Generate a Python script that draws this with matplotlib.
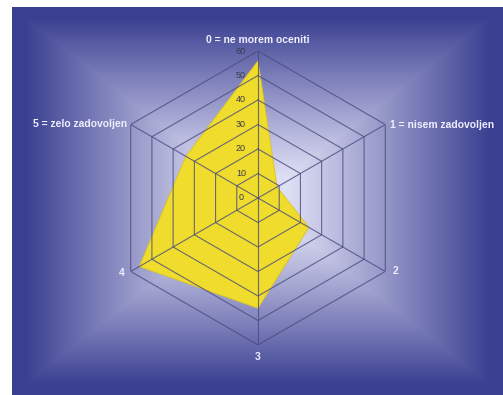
import numpy as np
import matplotlib
matplotlib.use("Agg")
import matplotlib.pyplot as plt
from matplotlib.transforms import ScaledTranslation

# ---- data ----
categories = ["0 = ne morem oceniti", "1 = nisem zadovoljen", "2", "3", "4",
              "5 = zelo zadovoljen"]
values = [56, 9, 24, 45, 56, 34]
rticks = [0, 10, 20, 30, 40, 50, 60]
rmax = 60

W, H = 503, 395
DPI = 100
fig = plt.figure(figsize=(W / DPI, H / DPI), dpi=DPI, facecolor="white")

# ---- background: rectangular gradient panel ----
bg = fig.add_axes([12 / W, 0, (W - 12) / W, (H - 7) / H], zorder=0)
nx, ny = 491, 388
xx = np.linspace(-1, 1, nx)[None, :]
yy = np.linspace(-1, 1, ny)[:, None]
u = np.maximum(np.abs(xx) * np.ones_like(yy), np.abs(yy) * np.ones_like(xx))
t = np.clip((u - 0.12) / 0.83, 0, 1) ** 1.1
light = np.array([222, 222, 244]) / 255
dark = np.array([58, 63, 145]) / 255
img = light[None, None, :] * (1 - t[..., None]) + dark[None, None, :] * t[..., None]
bg.imshow(img, aspect="auto", interpolation="bilinear")
bg.set_axis_off()

# ---- radar axes ----
cx, cy, R = 258, H - 198, 147
ax = fig.add_axes([(cx - R) / W, (cy - R) / H, 2 * R / W, 2 * R / H],
                  projection="polar", zorder=1)
ax.patch.set_alpha(0)
ax.set_theta_offset(np.pi / 2)
ax.set_theta_direction(-1)
ax.set_ylim(0, rmax)
ax.grid(False)
ax.spines["polar"].set_visible(False)
ax.set_xticks([])
ax.set_yticks([])

n = len(categories)
angles = np.arange(n) * 2 * np.pi / n
closed_angles = np.append(angles, angles[0])

# data polygon
vals = np.append(values, values[0])
ax.fill(closed_angles, vals, color="#efdc2c", zorder=2, edgecolor="#d8c424",
        linewidth=0.6)

# hexagonal grid rings and spokes
grid_color = "#4a4a7e"
for r in rticks[1:]:
    ax.plot(closed_angles, [r] * (n + 1), color=grid_color, lw=0.8, alpha=0.8,
            zorder=3)
for a in angles:
    ax.plot([a, a], [0, rmax], color=grid_color, lw=0.8, alpha=0.8, zorder=3)

# radial tick labels
off = ScaledTranslation(-17 / DPI, 0, fig.dpi_scale_trans)
for r in rticks:
    ax.text(0, r, str(r), transform=ax.transData + off, ha="center",
            va="center", fontsize=6.5, color="#3a3a50", zorder=4,
            family="Liberation Sans")

# category labels
offsets = [(0, 11, "center"), (5, 0, "left"), (7, 0, "left"),
           (0, -12, "center"), (-9, -1, "center"), (-4, 0, "right")]
for a, lab, (dx, dy, ha) in zip(angles, categories, offsets):
    tr = ax.transData + ScaledTranslation(dx / DPI, dy / DPI, fig.dpi_scale_trans)
    ax.text(a, rmax, lab, transform=tr, ha=ha, va="center", fontsize=7.5,
            fontweight="bold", color="#eeeeff", zorder=4,
            family="Liberation Sans")

fig.savefig("out.png", dpi=DPI, facecolor="white")
